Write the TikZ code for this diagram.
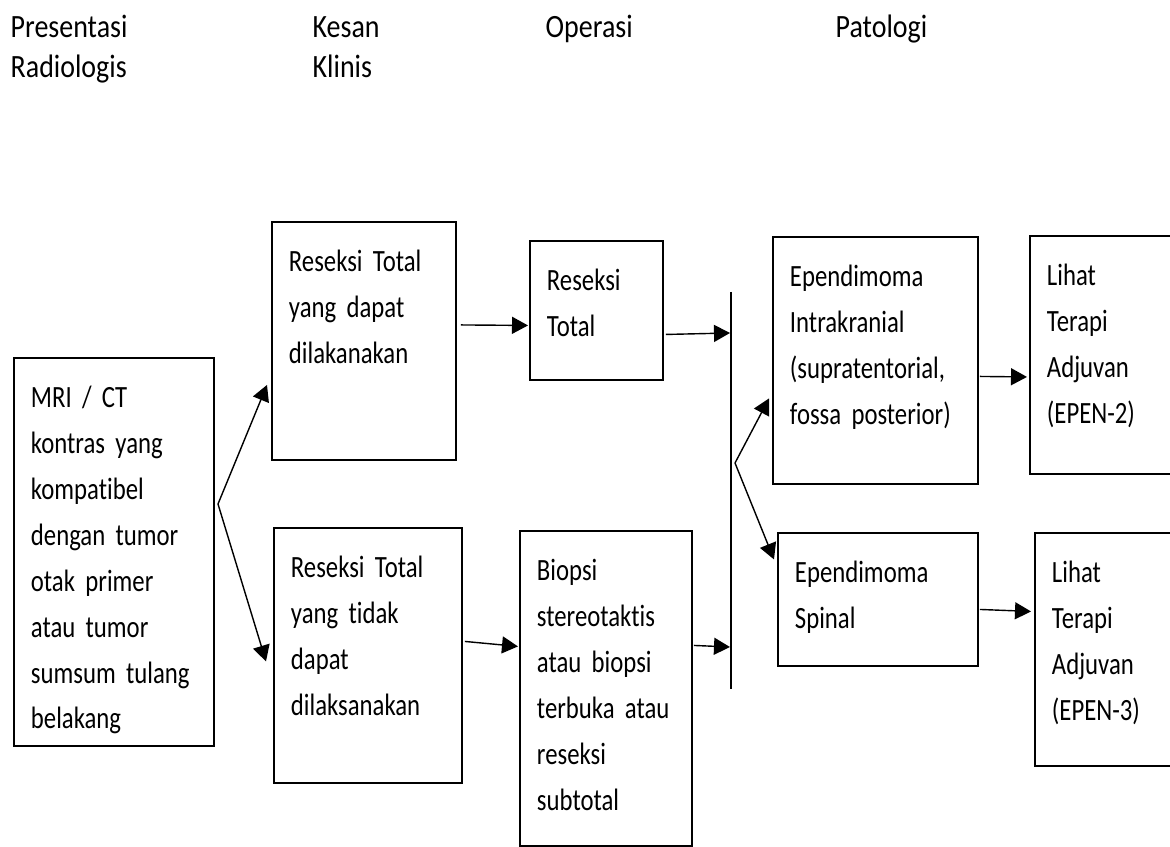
\documentclass[tikz,border=0pt]{standalone}
\usepackage{fontspec}
\setmainfont{Carlito}[FakeStretch=0.8, Ligatures={NoCommon, NoContextual}, RawFeature={-clig}]
\newfontfamily\judulfont{Carlito}[FakeStretch=0.86, Ligatures={NoCommon, NoContextual}, RawFeature={-clig}]
\usetikzlibrary{arrows.meta}

\protected\def\hurufkotak{\fontsize{17.6}{26.1}\selectfont\spaceskip=3.6pt\relax}

\tikzset{
	kotak/.style={draw, line width=1.1pt, anchor=north west, align=left,
		inner xsep=0.34cm, inner ysep=0pt, text height=1cm,
		font=\hurufkotak},
	judul/.style={anchor=north west, align=left, inner sep=0pt, text width=4cm,
		text height=0.5cm, font=\judulfont\fontsize{18.5}{22.7}\selectfont},
	>={Triangle[length=0.32cm, width=0.34cm]}
}

\begin{document}
\begin{tikzpicture}[x=0.02cm, y=-0.02cm, line width=0.8pt]
		\useasboundingbox (0, 0) rectangle (1170, 847);

		% judul kolom
		\node[judul] (radiologi) at (10, 12) {Presentasi\\Radiologis};
		\node[judul] (klinis) at (312, 12) {Kesan\\Klinis};
		\node[judul] (operasi) at (545, 12) {Operasi};
		\node[judul] (patologi) at (835, 12) {Patologi};

		% kotak
		\node[kotak, text width=3.32cm, text depth=6.76cm] (mri) at (13, 357) {MRI / CT\\kontras yang\\kompatibel\\dengan~tumor\\otak primer\\atau tumor\\sumsum~tulang\\belakang};
		\node[kotak, text width=3.0cm, text depth=3.76cm] (dapat) at (271, 221) {Reseksi~Total\\yang dapat\\dilakanakan};
		\node[kotak, text width=3.08cm, text depth=4.1cm] (tidak) at (273, 527) {Reseksi~Total\\yang tidak\\dapat\\dilaksanakan};
		\node[kotak, text width=1.98cm, text depth=1.78cm] (total) at (529, 240) {Reseksi\\Total};
		\node[kotak, text width=2.76cm, text depth=5.3cm] (biopsi) at (519, 530) {Biopsi\\stereotaktis\\atau~biopsi\\terbuka~atau\\reseksi\\subtotal};
		\node[kotak, text width=3.42cm, text depth=3.94cm] (intra) at (772, 236) {Ependimoma\\Intrakranial\\(supratentorial,\\fossa~posterior)};
		\node[kotak, text width=2.22cm, text depth=3.76cm] (epen2) at (1029, 235) {Lihat\\Terapi\\Adjuvan\\(EPEN-2)};
		\node[kotak, text width=3.32cm, text depth=1.66cm] (spinal) at (777, 532) {Ependimoma\\Spinal};
		\node[kotak, text width=2.12cm, text depth=3.66cm] (epen3) at (1034, 532) {Lihat\\Terapi\\Adjuvan\\(EPEN-3)};

		% garis tegak dan titik cabang
		\coordinate (atas) at (731, 292);
		\coordinate (bawah) at (731, 689);
		\coordinate (masuk1) at (730, 333);
		\coordinate (masuk2) at (730, 647);
		\coordinate (pisah1) at (218, 504);
		\coordinate (pisah2) at (735, 463);
		\draw (atas) -- (bawah);

		\draw[->] (pisah1) -- ([shift={(-4, 44)}]dapat.west);
		\draw[->] (pisah1) -- ([shift={(-7, 6)}]tidak.west);
		\draw[->] ([shift={(4, -16)}]dapat.east) -- ([shift={(-1, 15)}]total.west);
		\draw[->] ([shift={(2, -14)}]tidak.east) -- ([shift={(-1, -42)}]biopsi.west);
		\draw[->] ([shift={(2, 24)}]total.east) -- (masuk1);
		\draw[->] ([shift={(1, -43)}]biopsi.east) -- (masuk2);
		\draw[->] (pisah2) -- ([shift={(-3, 38)}]intra.west);
		\draw[->] (pisah2) -- ([shift={(-3, -40)}]spinal.west);
		\draw[->] ([shift={(1, 16)}]intra.east) -- ([shift={(-2, 22)}]epen2.west);
		\draw[->] ([shift={(1, 10)}]spinal.east) -- ([shift={(-3, -38)}]epen3.west);
	\end{tikzpicture}
\end{document}
